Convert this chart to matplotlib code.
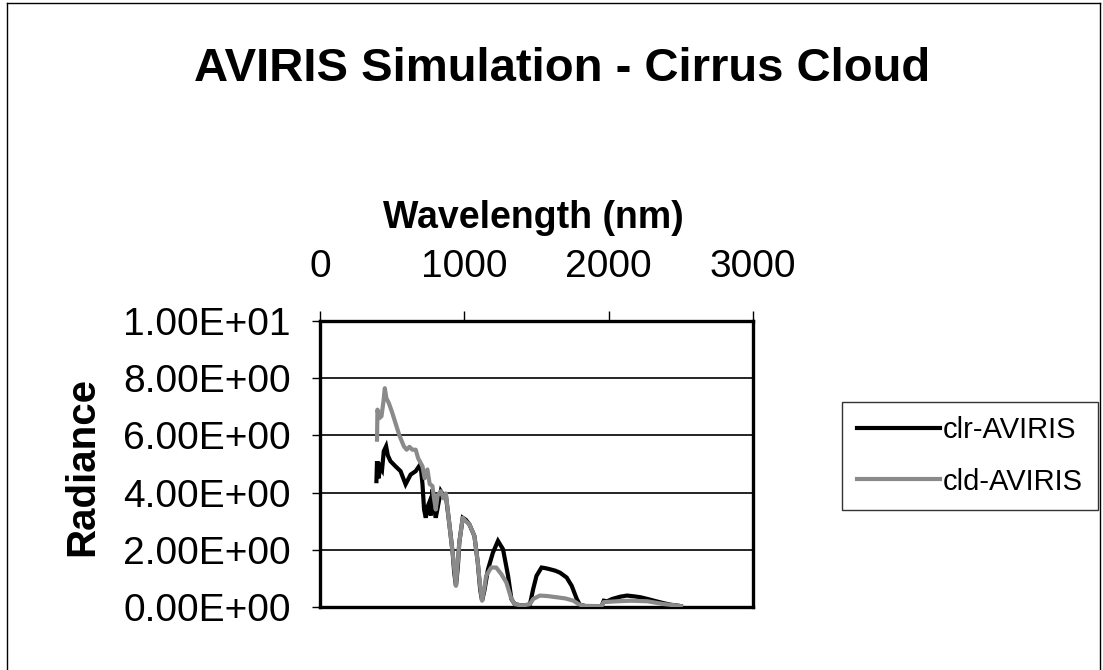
import matplotlib
matplotlib.use("Agg")
import matplotlib.pyplot as plt
from matplotlib.lines import Line2D

plt.rcParams['font.family'] = ['Liberation Sans', 'DejaVu Sans']

title = "AVIRIS Simulation - Cirrus Cloud"
x_label = "Wavelength (nm)"
y_label = "Radiance"
series_names = ["clr-AVIRIS", "cld-AVIRIS"]
x_ticks = [0, 1000, 2000, 3000]
y_ticks = [0, 2, 4, 6, 8, 10]
y_tick_labels = ["0.00E+00", "2.00E+00", "4.00E+00", "6.00E+00", "8.00E+00", "1.00E+01"]

clr_wl = [391, 395, 405, 419, 430, 442, 458, 470, 488, 523, 558, 593, 628, 663, 690, 698,
          710, 721, 733, 745, 756, 768, 779, 790, 802, 820, 837, 855, 872, 895, 919, 930,
          942, 955, 965, 989, 1010, 1035, 1070, 1093, 1110, 1123, 1140, 1163, 1198, 1233,
          1268, 1303, 1326, 1349, 1400, 1454, 1477, 1500, 1535, 1560, 1593, 1630, 1663,
          1709, 1744, 1779, 1800, 1850, 1950, 1966, 1990, 2024, 2080, 2128, 2180, 2221,
          2270, 2314, 2384, 2430, 2477, 2500]
clr_rad = [4.4, 5.1, 4.5, 4.9, 4.8, 5.45, 5.62, 5.3, 5.1, 4.92, 4.75, 4.29, 4.63, 4.75, 4.95, 4.9,
           4.3, 3.41, 3.12, 3.5, 3.64, 3.2, 4.11, 3.5, 3.12, 3.6, 4.05, 3.9, 3.9, 2.95, 1.9, 1.2,
           0.74, 1.4, 2.25, 3.12, 3.05, 2.89, 2.48, 1.56, 0.6, 0.22, 0.6, 1.3, 1.9, 2.31,
           2.02, 1.09, 0.28, 0.1, 0.05, 0.08, 0.63, 1.09, 1.38, 1.36, 1.32, 1.27, 1.2,
           1.03, 0.74, 0.28, 0.08, 0.02, 0.02, 0.22, 0.2, 0.28, 0.36, 0.4, 0.37, 0.34,
           0.28, 0.22, 0.13, 0.08, 0.05, 0.03]

cld_wl = [395, 398, 410, 426, 440, 449, 460, 477, 500, 523, 550, 581, 600, 620, 640, 663,
          680, 710, 725, 744, 760, 779, 790, 802, 815, 837, 855, 872, 895, 919, 942, 965,
          989, 1010, 1035, 1070, 1093, 1110, 1123, 1140, 1151, 1186, 1221, 1256, 1291, 1326,
          1349, 1400, 1454, 1477, 1523, 1580, 1640, 1700, 1756, 1791, 1826, 1950, 1966,
          2059, 2152, 2268, 2384, 2477, 2500]
cld_rad = [5.85, 6.9, 6.6, 6.67, 7.2, 7.65, 7.3, 7.13, 6.8, 6.43, 6.0, 5.62, 5.5, 5.6, 5.5, 5.5,
           5.2, 4.92, 4.5, 4.81, 4.3, 4.23, 3.8, 3.41, 3.9, 4.05, 3.8, 3.97, 2.95, 1.9, 0.74, 2.25,
           3.12, 3.0, 2.89, 2.48, 1.56, 0.7, 0.22, 0.7, 1.09, 1.38, 1.38, 1.15, 0.86, 0.28,
           0.1, 0.05, 0.1, 0.28, 0.4, 0.38, 0.34, 0.3, 0.22, 0.1, 0.04, 0.03, 0.17,
           0.2, 0.22, 0.2, 0.1, 0.05, 0.03]

W, H = 1103, 670
fig = plt.figure(figsize=(W / 100, H / 100), dpi=100)
ax = fig.add_axes([320 / W, 1 - 607 / H, (753 - 320) / W, (607 - 321) / H])

ax.plot(clr_wl, clr_rad, color='black', lw=3.0, solid_joinstyle='miter', zorder=3)
ax.plot(cld_wl, cld_rad, color='#8a8a8a', lw=3.0, zorder=4)

ax.set_xlim(0, 3000)
ax.set_ylim(0, 10)
ax.xaxis.tick_top()
ax.set_xticks(x_ticks)
ax.set_xticklabels([str(v) for v in x_ticks])
ax.set_yticks(y_ticks)
ax.set_yticklabels(y_tick_labels)
ax.tick_params(axis='x', direction='out', length=7, width=1, pad=19, labelsize=28)
ax.tick_params(axis='y', direction='out', length=6, width=1, pad=15, labelsize=28)
for g in [2, 4, 6, 8]:
    ax.axhline(g, color='black', lw=1.2, zorder=1)
for s in ax.spines.values():
    s.set_linewidth(2.4)

fig.text(562 / W, 1 - 81 / H, title, ha='center', va='baseline', fontsize=34, fontweight='bold')
fig.text(533 / W, 1 - 228 / H, x_label, ha='center', va='baseline', fontsize=27, fontweight='bold')
fig.text(82 / W, 1 - 467 / H, y_label, ha='center', va='center', rotation=90, fontsize=29, fontweight='bold')

handles = [Line2D([], [], color='black', lw=3), Line2D([], [], color='#8a8a8a', lw=3)]
leg = fig.legend(handles, series_names, loc='center',
                 bbox_to_anchor=(842 / W, 1 - 510 / H, 256 / W, 108 / H), mode='expand',
                 fontsize=21, handlelength=2.85, handletextpad=0.1, frameon=True, fancybox=False,
                 edgecolor='black', borderpad=0.5, labelspacing=0.8, borderaxespad=0)
leg.get_frame().set_linewidth(1.0)

# outer chart border
fig.add_artist(Line2D([7 / W, 7 / W], [0, 1 - 3 / H], color='black', lw=1))
fig.add_artist(Line2D([7 / W, 1100 / W], [1 - 3 / H, 1 - 3 / H], color='black', lw=1))
fig.add_artist(Line2D([1100 / W, 1100 / W], [0, 1 - 3 / H], color='black', lw=1))

fig.savefig('out.png', dpi=100)
